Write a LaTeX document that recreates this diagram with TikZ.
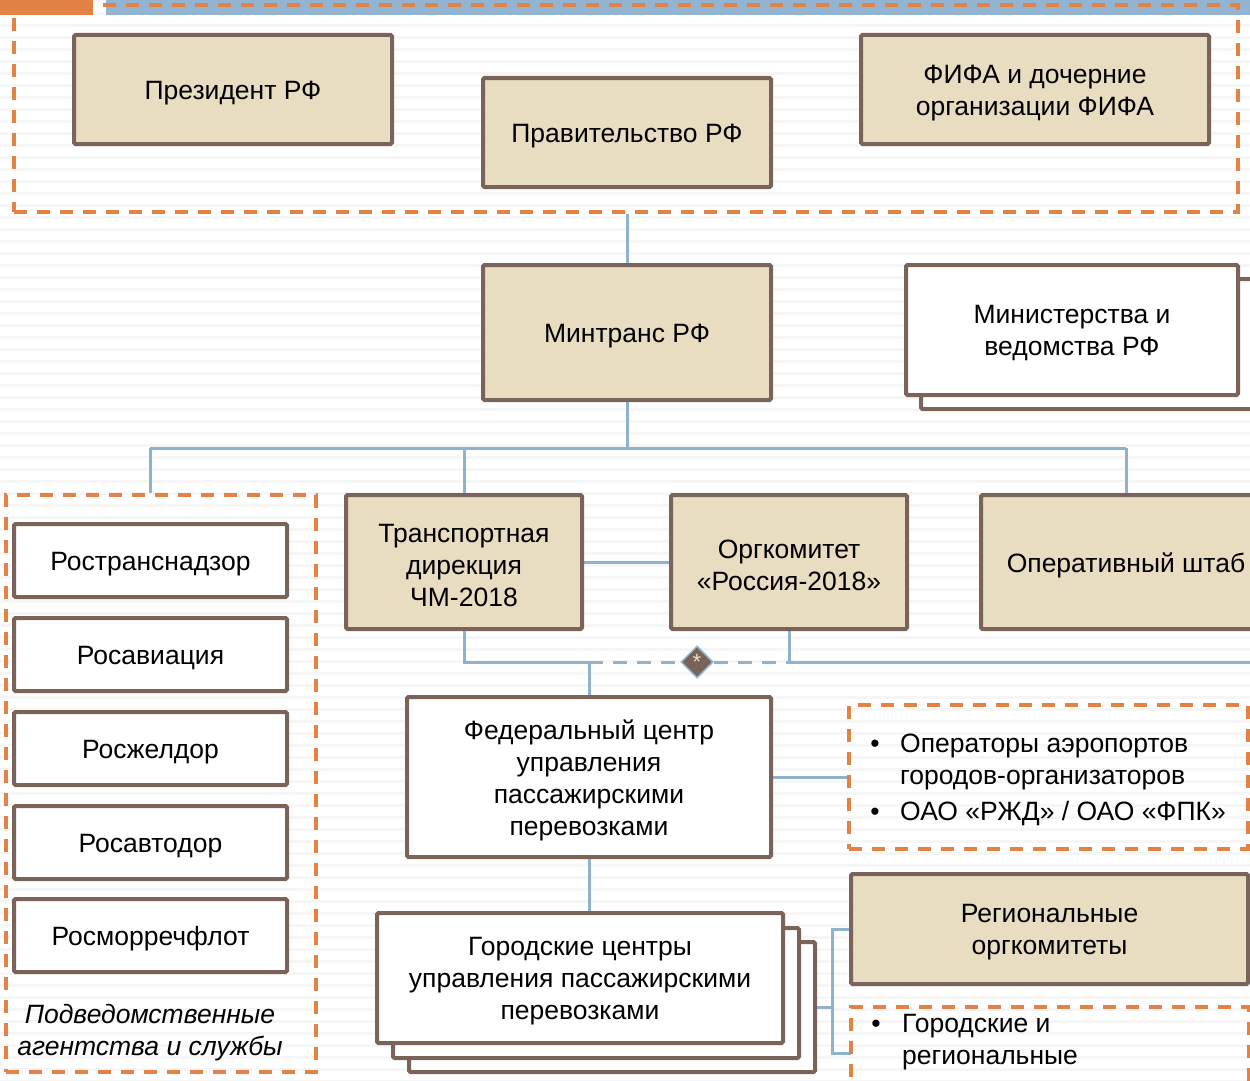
\documentclass[tikz,border=0pt]{standalone}
\usepackage{fontspec}
\setmainfont{Liberation Sans}
\usetikzlibrary{shapes.geometric}
\definecolor{beige}{RGB}{232,220,193}
\definecolor{brd}{RGB}{122,99,89}
\definecolor{lblue}{RGB}{143,178,207}
\definecolor{topblue}{RGB}{148,181,209}
\definecolor{orng}{RGB}{226,130,68}
\pgfdeclarelayer{bg}
\pgfdeclarelayer{lines}
\pgfsetlayers{bg,lines,main}
\begin{document}
\begin{tikzpicture}[x=1pt,y=-1pt,
  box/.style={draw=brd, line width=4pt, rounded corners=1.5pt, inner sep=0pt},
  bbox/.style={box, fill=beige},
  wbox/.style={box, fill=white},
  lbl/.style={label={[txt, align=center, yshift=-3.5pt]center:#1}},
  grp/.style={draw=orng, line width=3.2pt, dash pattern=on 13pt off 10pt, inner sep=0pt},
  conn/.style={draw=lblue, line width=3pt},
  dconn/.style={conn, dash pattern=on 14pt off 10pt},
  txt/.style={inner sep=0pt, font=\fontsize{26.5}{32}\selectfont},
]
\useasboundingbox (0,0) rectangle (1250,1081);
\clip (0,0) rectangle (1250,1081);
\begin{pgfonlayer}{bg}
\fill[white] (0,0) rectangle (1250,1081);
\foreach \yy in {0,12,...,1080} \fill[black!3.5] (0,\yy) rectangle (1250,\yy+3);
\fill[orng] (0,0) rectangle (93,15);
\fill[topblue] (106,0) rectangle (1250,15);
\end{pgfonlayer}

% top group
\node[grp, minimum width=1224, minimum height=207] (topgrp) at (626,108.5) {};
\node[bbox, minimum width=318, minimum height=109, lbl={Президент РФ}] (pres) at (233,89.5) {};
\node[bbox, minimum width=288, minimum height=109, lbl={Правительство РФ}] (prav) at (627,132.5) {};
\node[bbox, minimum width=348, minimum height=109, lbl={ФИФА и дочерние\\организации ФИФА}] (fifa) at (1035,89.5) {};

\node[bbox, minimum width=288, minimum height=135, lbl={Минтранс РФ}] (mint) at (627,332.5) {};
\node[wbox, minimum width=341, minimum height=130] (minv2) at (1091.5,344) {};
\node[wbox, minimum width=332, minimum height=130, lbl={Министерства и\\ведомства РФ}] (minv) at (1072,330) {};

% left group
\node[grp, minimum width=310, minimum height=577] (lgrp) at (161,783.5) {};
\node[wbox, minimum width=273, minimum height=73, lbl={Ространснадзор}] (r1) at (150.5,560.5) {};
\node[wbox, minimum width=273, minimum height=73, lbl={Росавиация}] (r2) at (150.5,654.5) {};
\node[wbox, minimum width=273, minimum height=73, lbl={Росжелдор}] (r3) at (150.5,748.5) {};
\node[wbox, minimum width=273, minimum height=73, lbl={Росавтодор}] (r4) at (150.5,842.5) {};
\node[wbox, minimum width=273, minimum height=73, lbl={Росморречфлот}] (r5) at (150.5,935.5) {};
\node[txt, align=center, font=\fontsize{26.5}{32}\selectfont\itshape] (lcap) at (150,1033) {Подведомственные\\агентства и службы};

\node[bbox, minimum width=236, minimum height=134, lbl={Транспортная\\дирекция\\ЧМ-2018}] (trans) at (464,562) {};
\node[bbox, minimum width=236, minimum height=134, lbl={Оргкомитет\\«Россия-2018»}] (org) at (789,562) {};
\node[bbox, minimum width=290, minimum height=134, lbl={Оперативный штаб}] (oper) at (1126,562) {};

\node[wbox, minimum width=364, minimum height=160, lbl={Федеральный центр\\управления\\пассажирскими\\перевозками}] (fed) at (589,777) {};

\node[grp, minimum width=399, minimum height=144] (ops) at (1048.5,777) {};
\node[txt, anchor=base] (b1) at (875,752) {•};
\node[txt, anchor=base west] (t1) at (900,752) {Операторы аэропортов};
\node[txt, anchor=base west] (t2) at (900,784) {городов-организаторов};
\node[txt, anchor=base] (b2) at (875,820) {•};
\node[txt, anchor=base west] (t3) at (900,820) {ОАО «РЖД» / ОАО «ФПК»};

\node[wbox, minimum width=406, minimum height=130] (gor3) at (612,1007) {};
\node[wbox, minimum width=406, minimum height=130] (gor2) at (596,993) {};
\node[wbox, minimum width=406, minimum height=130, lbl={Городские центры\\управления пассажирскими\\перевозками}] (gor1) at (580,978) {};

\node[bbox, minimum width=397, minimum height=110, lbl={Региональные\\оргкомитеты}] (reg) at (1049.5,929) {};
\node[grp, minimum width=398, minimum height=90] (gr) at (1050,1052) {};
\node[txt, anchor=base] (b3) at (876,1032) {•};
\node[txt, anchor=base west] (t4) at (902,1032) {Городские и};
\node[txt, anchor=base west] (t5) at (902,1064) {региональные};

\node[diamond, aspect=1, minimum size=32, inner sep=0pt, fill=brd, draw=lblue, line width=1.5pt, text=beige, font=\fontsize{22}{22}\selectfont] (dia) at (697,662) {*};

\coordinate (busL) at (150,448);
\coordinate (busR) at (1126,448);
\coordinate (j1) at (589,662);
\coordinate (rend) at (1250,662);
\coordinate (br) at (832,1007);
\coordinate (brb) at (851,1053);

\begin{pgfonlayer}{lines}
\draw[conn] (topgrp.south -| mint.north) -- (mint.north);
\draw[conn] (mint.south) -- (mint.south |- busL);
\draw[conn] (busL) -- (busR);
\draw[conn] (busL) -- (busL |- lgrp.north);
\draw[conn] (trans.north |- busL) -- (trans.north);
\draw[conn] (busR) -- (oper.north);
\draw[conn] (trans.east) -- (org.west);
\draw[conn] (trans.south) |- (j1) -- (fed.north);
\draw[dconn] (j1) -- (dia) -- (org.south |- j1);
\draw[conn] (org.south) -- (org.south |- j1) -- (rend);
\draw[conn] (fed.east) -- (ops.west);
\draw[conn] (fed.south) -- (fed.south |- gor1.north);
\draw[conn] (gor3.east) -- (br);
\draw[conn] (reg.west) -| (br) |- (brb);
\draw[conn] (reg.east) -- ++(6,0);
\end{pgfonlayer}
\end{tikzpicture}
\end{document}
